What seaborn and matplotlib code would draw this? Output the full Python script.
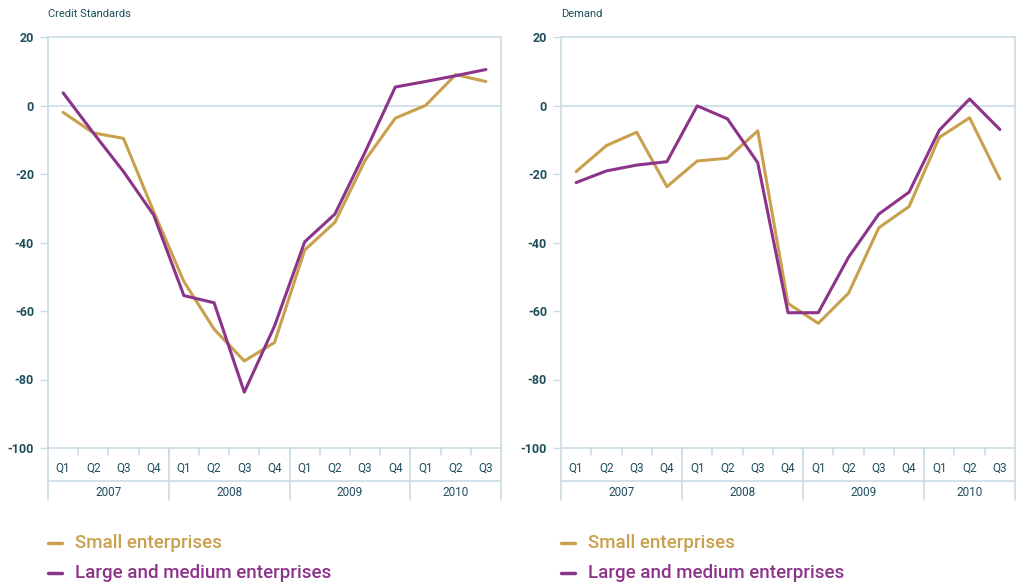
import matplotlib
matplotlib.use("Agg")
import matplotlib.pyplot as plt
import seaborn as sns
import pandas as pd

# ---- data ----
years = ["2007", "2008", "2009", "2010"]
quarters = ["Q1", "Q2", "Q3", "Q4", "Q1", "Q2", "Q3", "Q4", "Q1", "Q2", "Q3", "Q4", "Q1", "Q2", "Q3"]
periods = ["2007Q1", "2007Q2", "2007Q3", "2007Q4", "2008Q1", "2008Q2", "2008Q3", "2008Q4",
           "2009Q1", "2009Q2", "2009Q3", "2009Q4", "2010Q1", "2010Q2", "2010Q3"]
series_names = ["Small enterprises", "Large and medium enterprises"]

credit_small = [-2, -8, -9.6, -31, -51.4, -65.3, -74.6, -69.2, -42.2, -34.1, -16, -3.7, 0, 9, 7]
credit_large = [3.7, -8, -19.3, -32, -55.5, -57.6, -83.7, -64.4, -39.8, -31.7, -13.6, 5.4, 7, 8.7, 10.5]
demand_small = [-19.3, -11.7, -7.8, -23.7, -16.2, -15.4, -7.4, -57.8, -63.6, -54.8, -35.7, -29.5, -9.3, -3.6, -21.5]
demand_large = [-22.5, -19.1, -17.4, -16.4, -0.1, -3.9, -16.7, -60.5, -60.5, -44.3, -31.7, -25.3, -7.2, 1.9, -7]

panel_titles = ["Credit Standards", "Demand"]
yticks = [20, 0, -20, -40, -60, -80, -100]

# ---- style ----
sns.set_style("white")
plt.rcParams["font.family"] = ["Roboto", "DejaVu Sans"]

C_SMALL = "#C9A04E"
C_LARGE = "#8C3489"
C_AXIS = "#C9DDE4"
C_TEXT = "#1E4D5C"
palette = {series_names[0]: C_SMALL, series_names[1]: C_LARGE}

def long_df(small, large):
    return pd.DataFrame({
        "period": periods * 2,
        "value": small + large,
        "series": [series_names[0]] * len(periods) + [series_names[1]] * len(periods),
    })

fig = plt.figure(figsize=(10.2, 5.85), dpi=100)
ax_pos = [[48 / 1020, 1 - 448 / 585, 453 / 1020, 411 / 585],
          [561 / 1020, 1 - 448 / 585, 454 / 1020, 411 / 585]]
datasets = [(credit_small, credit_large), (demand_small, demand_large)]

for pos, (sm, lg), title in zip(ax_pos, datasets, panel_titles):
    ax = fig.add_axes(pos)
    df = long_df(sm, lg)
    ax.axhline(0, color=C_AXIS, lw=1.2, zorder=0)
    sns.lineplot(data=df, x="period", y="value", hue="series", palette=palette,
                 linewidth=2.2, ax=ax, legend=False, sort=False)
    ax.set_xlim(-0.5, len(periods) - 0.5)
    ax.set_ylim(-100, 20)
    ax.set_xlabel("")
    ax.set_ylabel("")
    ax.set_yticks(yticks)
    ax.set_yticklabels([str(v) for v in yticks], color=C_TEXT, fontsize=9, fontweight="bold")
    ax.tick_params(axis="y", length=6, width=1, color=C_AXIS, left=True, pad=4)
    ax.set_xticks(range(len(periods)))
    ax.set_xticklabels(quarters, color=C_TEXT, fontsize=8.5)
    ax.tick_params(axis="x", length=0, pad=10)
    for s in ax.spines.values():
        s.set_color(C_AXIS)
        s.set_linewidth(1.2)

    tr = ax.get_xaxis_transform()
    # quarter separators (short)
    for i in range(len(periods) - 1):
        xb = i + 0.5
        ax.plot([xb, xb], [0, -0.018], transform=tr, color=C_AXIS, lw=1.2, clip_on=False)
    # year boundaries (full height)
    year_starts = [0, 4, 8, 12, len(periods)]
    for b in year_starts:
        xb = b - 0.5
        ax.plot([xb, xb], [0, -0.127], transform=tr, color=C_AXIS, lw=1.2, clip_on=False)
    # horizontal separator between quarters and years
    ax.plot([-0.5, len(periods) - 0.5], [-0.08, -0.08], transform=tr, color=C_AXIS, lw=1.2, clip_on=False)
    for y, a, b in zip(years, year_starts[:-1], year_starts[1:]):
        ax.text((a + b - 1) / 2, -0.109, y, transform=tr, ha="center", va="center",
                color=C_TEXT, fontsize=8.5)

    ax.text(0, 1.055, title, transform=ax.transAxes, ha="left", va="center",
            color=C_TEXT, fontsize=8)

    # legend
    for k, (name, col) in enumerate(zip(series_names, [C_SMALL, C_LARGE])):
        ly = -0.232 - k * 0.073
        ax.plot([0, 0.031], [ly, ly], transform=ax.transAxes, color=col, lw=2.5, clip_on=False)
        ax.text(0.06, ly, name, transform=ax.transAxes, ha="left", va="center",
                color=col, fontsize=13.5, fontweight="medium")

fig.savefig("out.png", dpi=100)
